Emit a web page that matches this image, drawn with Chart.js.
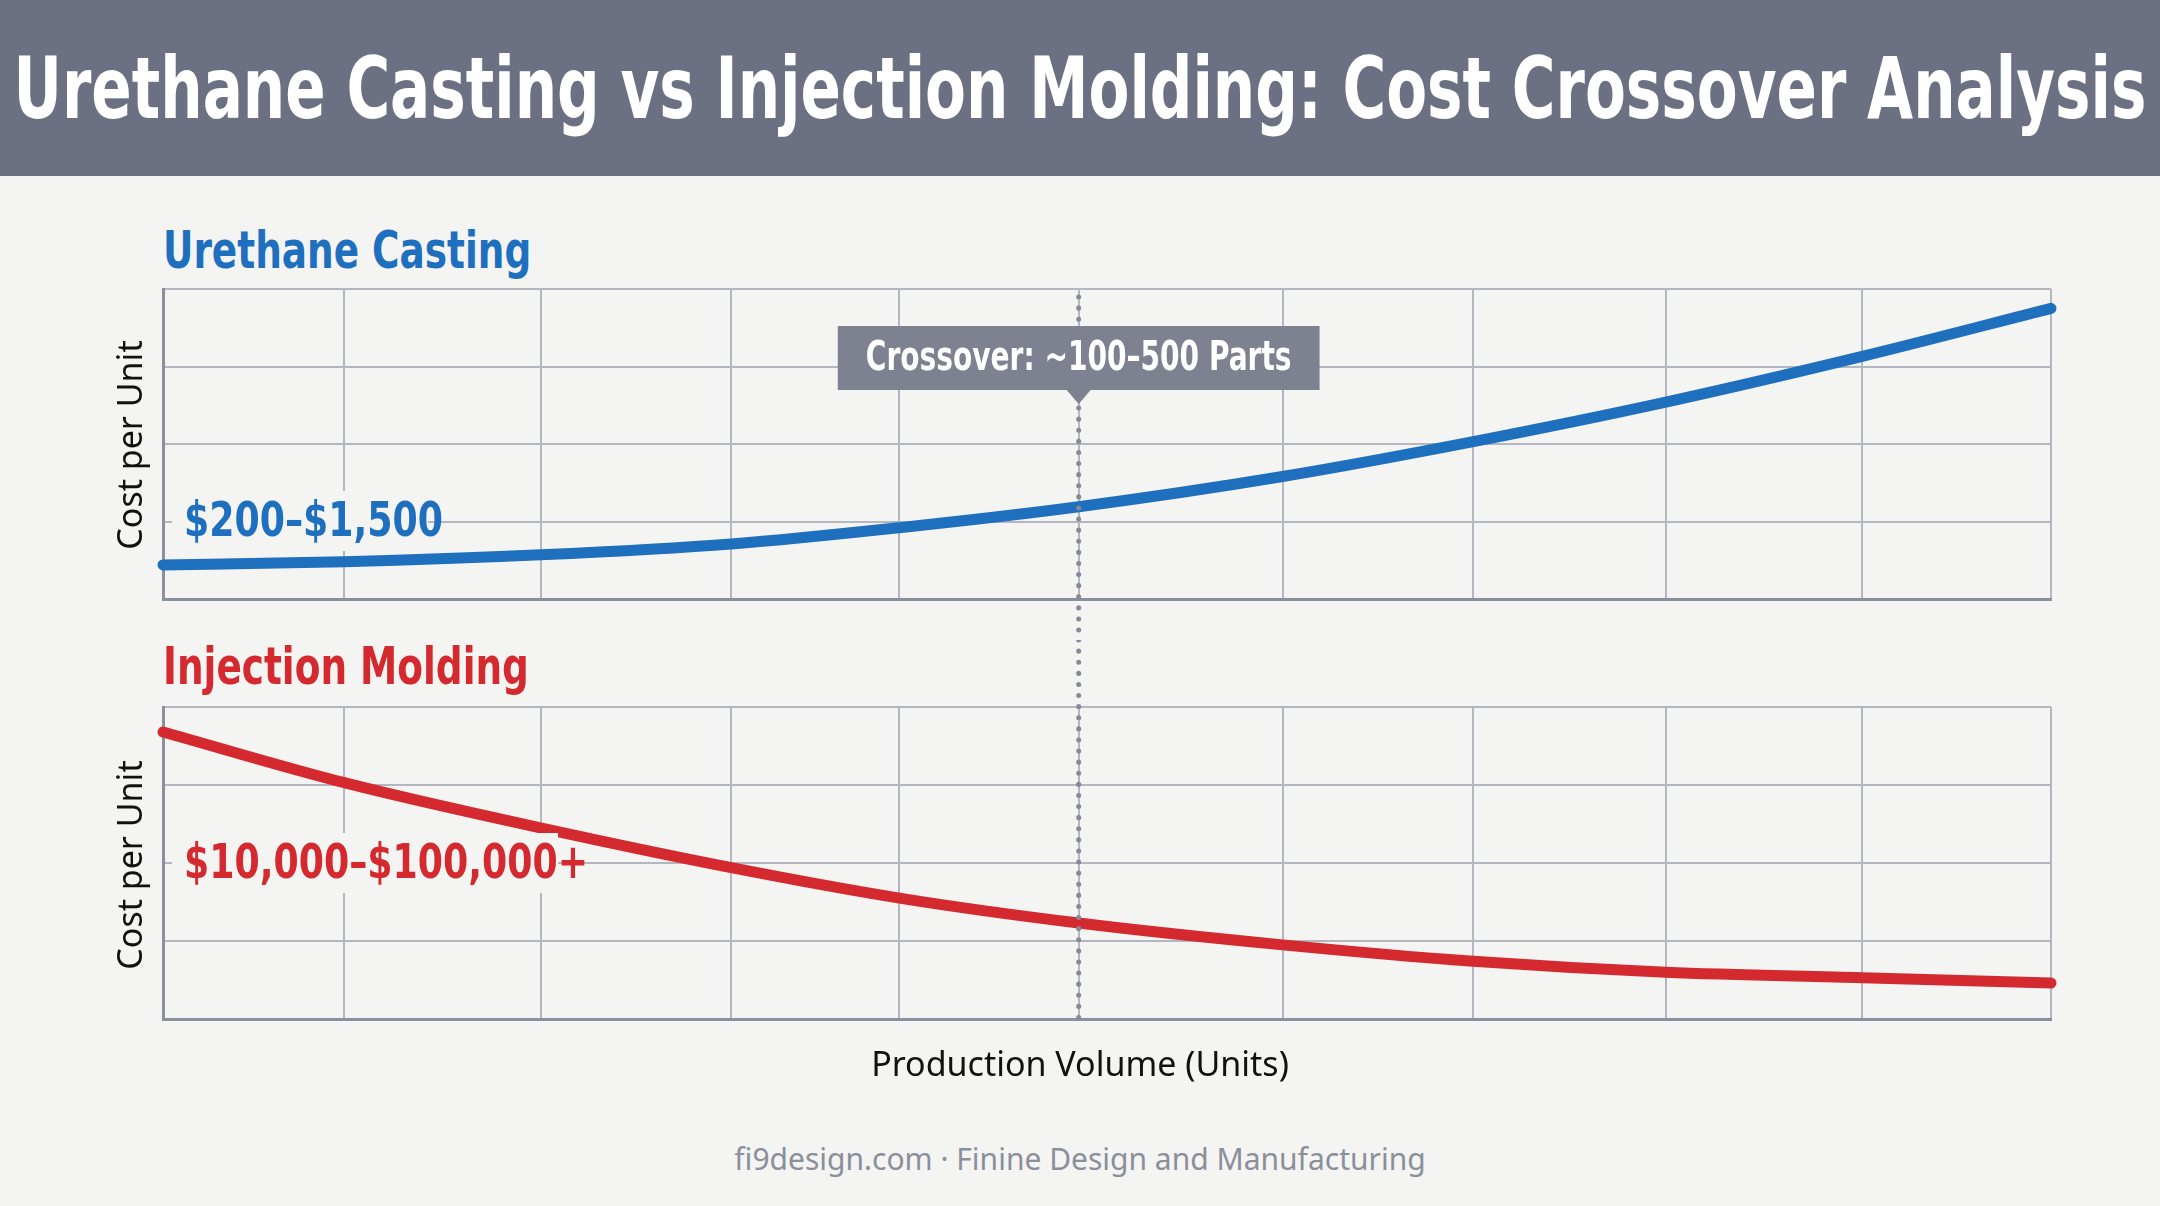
<!DOCTYPE html>
<html>
<head>
<meta charset="utf-8">
<script src="https://cdn.jsdelivr.net/npm/chart.js@4.4.1/dist/chart.umd.min.js"></script>
<style>
  html, body { margin: 0; padding: 0; background: #f4f4f3; }
  #page { position: relative; width: 2160px; height: 1206px; overflow: hidden; background: #f4f4f3; }
  #head { position: absolute; left: 0; top: 0; width: 2160px; height: 176px; background: #6b7082;
          display: flex; align-items: center; justify-content: center; }
  #head span { color: #fff; font: bold 86px "DejaVu Sans Condensed", sans-serif; white-space: nowrap;
               display: inline-block; transform: scaleX(0.77); }
  canvas { position: absolute; left: 0; }
  .sec { position: absolute; left: 163px; font: bold 52px "DejaVu Sans Condensed", sans-serif; z-index: 2;
         white-space: nowrap; transform: scaleX(0.8); transform-origin: left center; }
  .ylab { position: absolute; font: 34px "Noto Sans", sans-serif; color: #111; transform: rotate(-90deg);
          transform-origin: center; white-space: nowrap; z-index: 2; }
  .val { position: absolute; left: 172px; background: #f4f4f3; padding: 0 12px; z-index: 2;
         transform: translateY(-50%); height: 60px; line-height: 60px; overflow: visible; }
  .val span { display: inline-block; white-space: nowrap; font: bold 48px "DejaVu Sans Condensed", sans-serif;
              transform: scaleX(0.84); transform-origin: left center; }
  #xlab { position: absolute; top: 1040px; left: 0; width: 2160px; text-align: center;
          font: 34px "Noto Sans", sans-serif; color: #111; }
  #foot { position: absolute; top: 1138px; left: 0; width: 2160px; text-align: center;
          font: 30px "Noto Sans", sans-serif; color: #8a8f9a; }
</style>
</head>
<body>
<div id="page">
  <div id="head"><span>Urethane Casting vs Injection Molding: Cost Crossover Analysis</span></div>
  <canvas id="top" width="2160" height="360" style="top:280px"></canvas>
  <canvas id="bot" width="2160" height="420" style="top:640px"></canvas>
  <div class="sec" style="top:220px;color:#1f6fbf">Urethane Casting</div>
  <div class="sec" style="top:636px;color:#d42a2f">Injection Molding</div>
  <div class="ylab" style="left:24px;top:422px">Cost per Unit</div>
  <div class="ylab" style="left:24px;top:842px">Cost per Unit</div>
  <div class="val" style="top:521px;width:232px"><span style="color:#1f6fbf">$200–$1,500</span></div>
  <div class="val" style="top:863px;width:362px"><span style="color:#d42a2f">$10,000–$100,000+</span></div>
  <div id="xlab">Production Volume (Units)</div>
  <div id="foot">fi9design.com · Finine Design and Manufacturing</div>
</div>
<script>
'use strict';

// ── Data ──────────────────────────────────────────────────────
const volumePositions = [0, 0.96, 2.0, 3.01, 3.90, 4.85, 5.93, 6.94, 7.96, 9.0, 10];
const urethaneCost    = [0.44, 0.48, 0.57, 0.71, 0.92, 1.19, 1.58, 2.03, 2.54, 3.13, 3.75];
const injectionCost   = [3.68, 3.03, 2.45, 1.94, 1.55, 1.23, 0.95, 0.74, 0.60, 0.53, 0.46];
const crossoverAt     = 4.85;
const crossoverLabel  = 'Crossover: ~100–500 Parts';

const gridColor = '#b4b7c2';
const edgeColor = '#8c909e';

function crossoverPlugin(fromTop, toBottom, withLabel) {
  return {
    id: 'crossover',
    afterDatasetsDraw(chart) {
      const { ctx, chartArea, scales } = chart;
      const x = scales.x.getPixelForValue(crossoverAt);
      const y0 = fromTop ? chartArea.top + 8 : 0;
      const y1 = toBottom ? chartArea.bottom : chart.height;
      ctx.save();
      ctx.strokeStyle = '#868a98';
      ctx.lineWidth = 5;
      ctx.lineCap = 'round';
      ctx.setLineDash([0.1, 11]);
      ctx.beginPath();
      ctx.moveTo(x, y0);
      ctx.lineTo(x, y1);
      ctx.stroke();
      if (withLabel) {
        ctx.setLineDash([]);
        const sx = 0.78;
        ctx.font = 'bold 40px "DejaVu Sans Condensed", sans-serif';
        const tw = ctx.measureText(crossoverLabel).width * sx;
        const w = tw + 56;
        const h = 64, top = chartArea.top + 37;
        ctx.fillStyle = '#7d8190';
        ctx.fillRect(x - w / 2, top, w, h);
        ctx.beginPath();
        ctx.moveTo(x - 12, top + h);
        ctx.lineTo(x + 12, top + h);
        ctx.lineTo(x, top + h + 14);
        ctx.fill();
        ctx.translate(x, top + h / 2 + 2);
        ctx.scale(sx, 1);
        ctx.fillStyle = '#fff';
        ctx.textAlign = 'center';
        ctx.textBaseline = 'middle';
        ctx.fillText(crossoverLabel, 0, 0);
      }
      ctx.restore();
    }
  };
}

function makeChart(id, values, color, padding, plugin) {
  return new Chart(document.getElementById(id), {
    type: 'line',
    data: {
      datasets: [{
        data: volumePositions.map((v, i) => ({ x: v, y: values[i] })),
        borderColor: color,
        borderWidth: 11,
        pointRadius: 0,
        cubicInterpolationMode: 'monotone',
        borderCapStyle: 'round',
        clip: false
      }]
    },
    options: {
      responsive: false,
      animation: false,
      layout: { padding },
      plugins: { legend: { display: false }, tooltip: { enabled: false } },
      scales: {
        x: {
          type: 'linear', min: 0, max: 10,
          afterBuildTicks: axis => { axis.ticks = volumePositions.map(v => ({ value: v })); },
          ticks: { display: false },
          grid: { color: gridColor, lineWidth: 2, drawTicks: false },
          border: { color: edgeColor, width: 3 }
        },
        y: {
          min: 0, max: 4,
          ticks: { display: false, stepSize: 1 },
          grid: { color: gridColor, lineWidth: 2, drawTicks: false },
          border: { color: edgeColor, width: 3 }
        }
      }
    },
    plugins: [plugin]
  });
}

makeChart('top', urethaneCost, '#1f6fbf', { left: 163, right: 109, top: 9, bottom: 41 },
  crossoverPlugin(true, false, true));
makeChart('bot', injectionCost, '#d42a2f', { left: 163, right: 109, top: 67, bottom: 41 },
  crossoverPlugin(false, true, false));
</script>
</body>
</html>
